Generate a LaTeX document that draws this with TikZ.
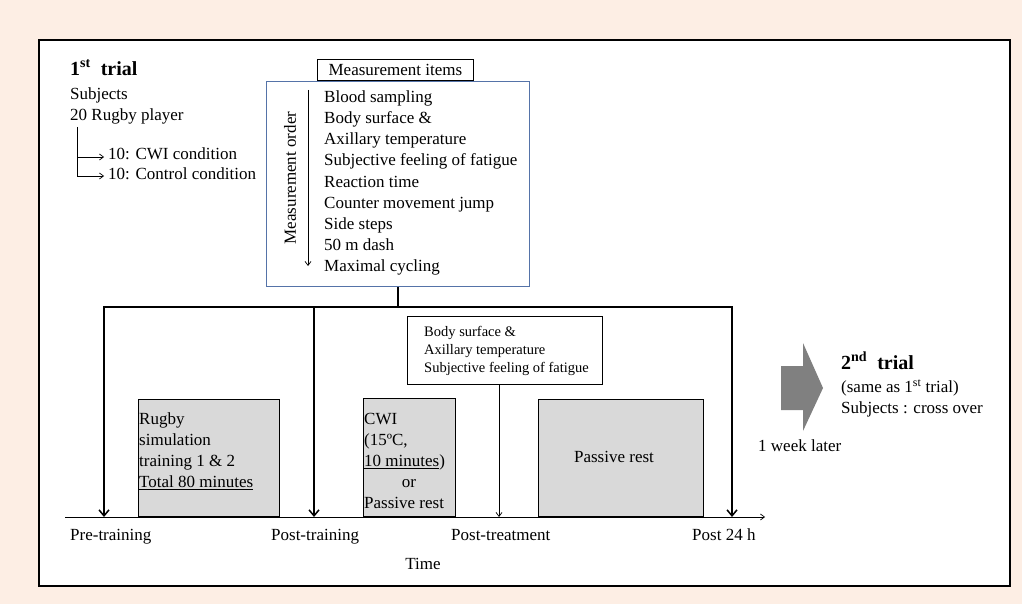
\documentclass[tikz,border=0pt]{standalone}
\usepackage{fontspec}
\setmainfont{Liberation Serif}
\usetikzlibrary{arrows.meta}
\definecolor{peach}{HTML}{FDEEE4}
\definecolor{boxgray}{HTML}{D9D9D9}
\definecolor{arrgray}{HTML}{808080}
\definecolor{bluebd}{HTML}{5573A8}
\tikzset{
  txt/.style={inner sep=0pt, anchor=mid west, font=\fontsize{17}{21}\selectfont},
  small/.style={inner sep=0pt, anchor=mid west, font=\fontsize{14.5}{18}\selectfont},
  thickarr/.style={line width=1.8pt, -{Straight Barb[length=6pt,width=10pt,line width=1.5pt]}},
  thinarr/.style={line width=0.7pt, -{Straight Barb[length=4pt,width=6pt]}},
  graybox/.style={draw=black, line width=0.8pt, fill=boxgray},
}
\begin{document}
\begin{tikzpicture}[x=1pt,y=-1pt]
\useasboundingbox (0,0) rectangle (1022,604);
\fill[peach] (0,0) rectangle (1022,604);
\draw[line width=1.6pt, fill=white] (39,40) rectangle (1010,586);

% first trial
\node[txt, font=\fontsize{20}{24}\bfseries] (t1) at (70,73) {1\textsuperscript{st}\ \ trial};
\node[txt] (subj) at (70,97) {Subjects};
\node[txt] (rug) at (70,118) {20 Rugby player};
\coordinate (br0) at (77,127);
\coordinate (br1) at (77,157);
\coordinate (br2) at (77,176);
\node[txt] (cwi) at (108,157) {10: CWI condition};
\node[txt] (ctl) at (108,177) {10: Control condition};
\draw[line width=0.7pt] (br0) -- (br2);
\draw[thinarr, shorten >=4pt] (br1) -- (cwi.west |- br1);
\draw[thinarr, shorten >=4pt] (br2) -- (ctl.west |- br2);

% measurement items
\node[draw=bluebd, line width=0.8pt, minimum width=263pt, minimum height=205pt, anchor=north west, inner sep=0pt] (mbox) at (266,81) {};
\node[draw=black, line width=0.8pt, fill=white, minimum width=156pt, minimum height=21pt, inner sep=0pt, anchor=south west, font=\fontsize{17}{21}\selectfont] (mitems) at (317,81) {Measurement items};
\coordinate (oa) at (308,90);
\coordinate (ob) at (308,266);
\draw[thinarr] (oa) -- (ob);
\node[inner sep=0pt, rotate=90, font=\fontsize{17}{21}\selectfont] (morder) at (290,178) {Measurement order};
\foreach \t [count=\i from 0] in {Blood sampling, Body surface \&, Axillary temperature, Subjective feeling of fatigue, Reaction time, Counter movement jump, Side steps, 50 m dash, Maximal cycling}
  \node[txt] (item\i) at (324,{100+21.2*\i}) {\t};

% distribution lines
\coordinate (hb) at (398,307);
\coordinate (hl) at (104,307);
\coordinate (hm) at (314,307);
\coordinate (hr) at (732,307);
\draw[line width=1.8pt] (mbox.south -| hb) -- (hb);
\draw[line width=1.8pt] (hl) -- (hr);

% axis
\coordinate (ax0) at (65,517);
\coordinate (ax1) at (765,517);
\draw[thinarr] (ax0) -- (ax1);
\draw[thickarr, shorten <=-0.9pt] (hl) -- (hl |- ax0);
\draw[thickarr] (hm) -- (hm |- ax0);
\draw[thickarr, shorten <=-0.9pt] (hr) -- (hr |- ax0);

% post-treatment box
\node[draw=black, line width=0.8pt, minimum width=195pt, minimum height=68pt, anchor=north west, inner sep=0pt] (ptbox) at (407,316) {};
\node[small] (pt1) at (424,334) {Body surface \&};
\node[small] (pt2) at (424,352) {Axillary temperature};
\node[small] (pt3) at (424,370) {Subjective feeling of fatigue};
\coordinate (ptx) at (499,384);
\draw[thinarr] (ptx) -- (ptx |- ax0);

% gray boxes
\node[graybox, minimum width=141pt, minimum height=117pt, anchor=south west, inner sep=0pt] (rbox) at (138,517) {};
\node[txt] (r1) at (139,422) {Rugby};
\node[txt] (r2) at (139,443) {simulation};
\node[txt] (r3) at (139,464) {training 1 \& 2};
\node[txt] (r4) at (139,485) {\underline{Total 80 minutes}};

\node[graybox, minimum width=92pt, minimum height=118pt, anchor=south west, inner sep=0pt] (cbox) at (363,517) {};
\node[txt] (c1) at (364,422) {CWI};
\node[txt] (c2) at (364,443) {(15ºC,};
\node[txt] (c3) at (364,464) {\underline{10 minutes}\rlap{)}};
\node[txt, anchor=mid] (c4) at (409,485) {or};
\node[txt] (c5) at (364,506) {Passive rest};

\node[graybox, minimum width=165pt, minimum height=117pt, anchor=south west, inner sep=0pt] (pbox) at (538,517) {};
\node[txt, anchor=mid] (p1) at (614,460) {Passive rest};

% axis labels
\node[txt] (l1) at (70,538) {Pre-training};
\node[txt] (l2) at (271,538) {Post-training};
\node[txt] (l3) at (451,538) {Post-treatment};
\node[txt] (l4) at (692,538) {Post 24 h};
\node[txt, anchor=mid] (time) at (423,567) {Time};

% second trial arrow
\fill[arrgray] (781,366) -- (803,366) -- (803,343) -- (823,388) -- (803,431) -- (803,410) -- (781,410) -- cycle;
\node[txt] (wk) at (758,449) {1 week later};
\node[txt, font=\fontsize{20}{24}\bfseries] (t2) at (841,367) {2\textsuperscript{nd}\ \ trial};
\node[txt] (same) at (841,390) {(same as 1\textsuperscript{st} trial)};
\node[txt] (cross) at (841,411) {Subjects : cross over};
\end{tikzpicture}
\end{document}
